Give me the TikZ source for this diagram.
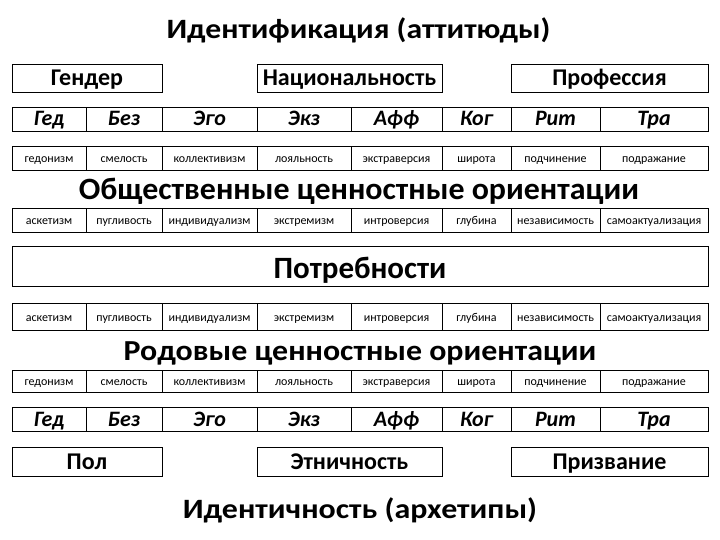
\documentclass[tikz,border=0pt]{standalone}
\usepackage{fontspec}
\usepackage{graphicx}
\setmainfont{Carlito}
\begin{document}
\begin{tikzpicture}[x=1pt,y=-1pt,
  cell/.style={draw=black,line width=0.8pt,inner sep=0pt,anchor=center},
  big/.style={inner sep=0pt,anchor=base},
  hdr/.style={cell,font=\bfseries\fontsize{24}{28}\selectfont,text height=16pt,text depth=0pt},
  abb/.style={cell,font=\bfseries\itshape\fontsize{22}{25}\selectfont,text height=14pt,text depth=0pt},
  wrd/.style={cell,font=\fontsize{12}{14}\selectfont,text height=9pt,text depth=0pt}]
\useasboundingbox (0,0) rectangle (720,540);
% titles
\node[big,font=\bfseries\fontsize{28}{32}\selectfont] (title) at (358.5,39) {\scalebox{1.13}[1]{Идентификация (аттитюды)}};
\node[big,font=\bfseries\fontsize{31}{34}\selectfont] (obsh) at (359,200) {\scalebox{1.03}[1]{Общественные ценностные ориентации}};
\node[big,font=\bfseries\fontsize{29}{34}\selectfont] (rod) at (360,360.5) {\scalebox{1.1}[1]{Родовые ценностные ориентации}};
\node[big,font=\bfseries\fontsize{28}{32}\selectfont] (ident) at (360,518) {\scalebox{1.14}[1]{Идентичность (архетипы)}};
% header boxes
\node[hdr,minimum width=150pt,minimum height=28pt] (gender) at (87,78) {Гендер};
\node[hdr,minimum width=185pt,minimum height=28pt] (nats) at (349.5,78) {Национальность};
\node[hdr,minimum width=197pt,minimum height=28pt] (prof) at (609.5,78) {Профессия};
\node[hdr,minimum width=150pt,minimum height=29pt] (pol) at (87,461.5) {Пол};
\node[hdr,minimum width=185pt,minimum height=29pt] (etn) at (349.5,461.5) {Этничность};
\node[hdr,minimum width=197pt,minimum height=29pt] (prizv) at (609.5,461.5) {Призвание};
% needs
\node[cell,font=\bfseries\fontsize{31}{34}\selectfont,text height=24pt,text depth=0pt,minimum width=696pt,minimum height=40pt] (potr) at (360,266) {Потребности};
% rows
\foreach \n/\l/\r/\t in {1/12/86/Гед,2/86/162/Без,3/162/257/Эго,4/257/351/Экз,5/351/442/Афф,6/442/511/Ког,7/511/600/Рит,8/600/708/Тра}{
  \node[abb,minimum width={(\r-\l)*1pt},minimum height=24pt] (a\n) at ({(\l+\r)/2},119) {\t};
  \node[abb,minimum width={(\r-\l)*1pt},minimum height=24pt] (b\n) at ({(\l+\r)/2},419) {\t};
}
\foreach \n/\l/\r/\t in {1/12/86/гедонизм,2/86/162/смелость,3/162/257/коллективизм,4/257/351/лояльность,5/351/442/экстраверсия,6/442/511/широта,7/511/600/подчинение,8/600/708/подражание}{
  \node[wrd,minimum width={(\r-\l)*1pt},minimum height=24pt] (w\n) at ({(\l+\r)/2},158) {\t};
  \node[wrd,minimum width={(\r-\l)*1pt},minimum height=22pt] (v\n) at ({(\l+\r)/2},381) {\t};
}
\foreach \n/\l/\r/\t in {1/12/86/аскетизм,2/86/162/пугливость,3/162/257/индивидуализм,4/257/351/экстремизм,5/351/442/интроверсия,6/442/511/глубина,7/511/600/независимость,8/600/708/самоактуализация}{
  \node[wrd,minimum width={(\r-\l)*1pt},minimum height=24pt] (s\n) at ({(\l+\r)/2},220) {\t};
  \node[wrd,minimum width={(\r-\l)*1pt},minimum height=27pt] (t\n) at ({(\l+\r)/2},316.5) {\t};
}
\end{tikzpicture}
\end{document}
